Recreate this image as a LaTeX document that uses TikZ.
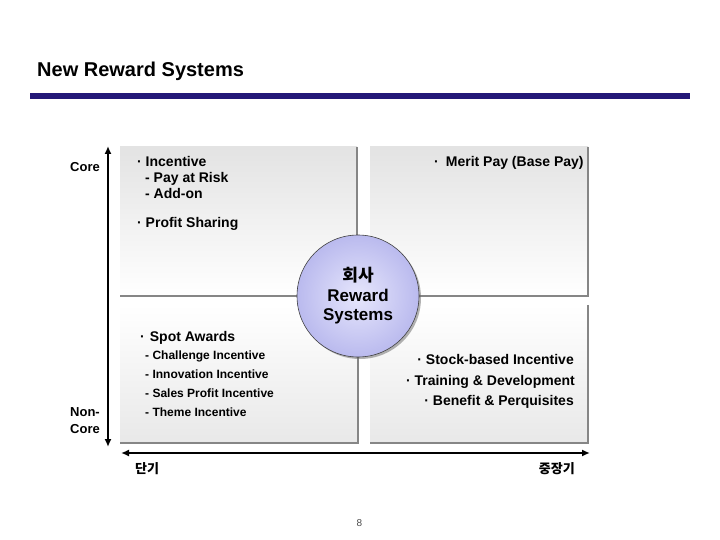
\documentclass[tikz,border=0pt]{standalone}
\usepackage{fontspec}
\setmainfont{Liberation Sans}
\newfontfamily\kor{Noto Sans CJK KR}
\usetikzlibrary{arrows.meta, shadows}
\definecolor{barblue}{RGB}{36,24,120}
\definecolor{hubin}{RGB}{230,230,252}
\definecolor{hubout}{RGB}{186,186,238}

\begin{document}
\begin{tikzpicture}[x=1pt, y=-1pt,
  panel/.style={rectangle, inner sep=0pt, draw=none},
  edge/.style={draw=gray!95, line width=2pt},
  axis/.style={line width=2.6pt, {Latex[length=8pt,width=7pt]}-{Latex[length=8pt,width=7pt]}},
  item/.style={anchor=base west, inner sep=0pt, font=\fontsize{14}{16}\selectfont\bfseries},
  sub/.style={item, font=\fontsize{12}{14}\selectfont\bfseries},
  lab/.style={inner sep=0pt, font=\fontsize{13}{15}\selectfont\bfseries},
  korlab/.style={inner sep=0pt, font=\fontsize{13}{15}\selectfont\kor\bfseries}]
  \useasboundingbox (0,0) rectangle (720,540);

  % heading
  \node[anchor=base west, inner sep=0pt, font=\fontsize{20}{24}\selectfont\bfseries] (title) at (37,77) {New Reward Systems};
  \fill[barblue] (30,93) rectangle (690,99);

  % four panels
  \node[panel, minimum width=237pt, minimum height=149pt, top color=gray!22, bottom color=white] (tl) at (238.5,221.5) {};
  \node[panel, minimum width=218pt, minimum height=149pt, top color=gray!22, bottom color=white] (tr) at (479,221.5) {};
  \node[panel, minimum width=238pt, minimum height=138pt, top color=white, bottom color=gray!18] (bl) at (239,374) {};
  \node[panel, minimum width=218pt, minimum height=138pt, top color=white, bottom color=gray!18] (br) at (479,374) {};
  \foreach \p in {tl, tr, bl, br} {
    \draw[edge] (\p.north east) -- (\p.south east) -- (\p.south west);
  }

  % axes
  \coordinate (vtop) at (108,146);
  \coordinate (vbot) at (108,447);
  \coordinate (hleft) at (121,453);
  \coordinate (hright) at (590,453);
  \draw[axis] (vtop) -- (vbot);
  \draw[axis] (hleft) -- (hright);
  \node[lab, anchor=base east] (core) at (100,172) {Core};
  \node[lab, anchor=base west] (non) at (70,416) {Non-};
  \node[lab, anchor=base west] (noncore) at (70,433) {Core};
  \node[korlab, anchor=base west] (short) at (135,473) {단기};
  \node[korlab, anchor=base east] (long) at (575,473) {중장기};

  % centre circle
  \node[circle, minimum size=122pt, draw=black!75, line width=0.6pt, inner color=hubin, outer color=hubout,
    drop shadow={shadow xshift=2pt, shadow yshift=-2pt, fill=black!60, opacity=0.5},
    align=center, font=\fontsize{17}{19.5}\selectfont\bfseries] (hub) at (358,296) {{\kor 회사}\\Reward\\Systems};

  % top left
  \node[item] (inc) at (137,167) {·\ Incentive};
  \node[item] (risk) at (145,183) {- Pay at Risk};
  \node[item] (addon) at (145,199) {- Add-on};
  \node[item] (profit) at (137,228) {·\ Profit Sharing};
  % top right
  \node[item] (merit) at (434,167) {·\hspace{7pt}Merit Pay (Base Pay)};
  % bottom left
  \node[item] (spot) at (140,341) {·\hspace{5pt}Spot Awards};
  \foreach \t [count=\i] in {Challenge Incentive, Innovation Incentive, Sales Profit Incentive, Theme Incentive}
    \node[sub] (spot\i) at (145,{340+19*\i}) {- \t};
  % bottom right
  \node[item, anchor=base east] (stock) at (574,364) {·\ Stock-based Incentive};
  \node[item, anchor=base east] (train) at (575,385) {·\ Training \& Development};
  \node[item, anchor=base east] (benefit) at (574,405) {·\ Benefit \& Perquisites};

  % page number
  \node[inner sep=0pt, anchor=base, font=\fontsize{10}{12}\selectfont, text=black!70] (page) at (359.5,526) {8};
\end{tikzpicture}
\end{document}
